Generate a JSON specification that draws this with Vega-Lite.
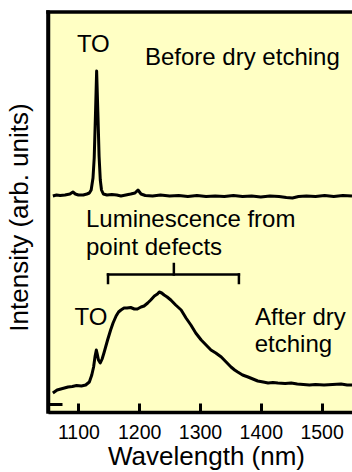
{
  "$schema": "https://vega.github.io/schema/vega-lite/v6.json",
  "width": 304,
  "height": 400,
  "autosize": "none",
  "padding": {"left": 48, "top": 12, "right": 0, "bottom": 60},
  "background": "white",
  "config": {
    "view": {"fill": "#FFFFC4", "stroke": null},
    "font": "Liberation Sans",
    "axis": {"grid": false, "domainColor": "black", "tickColor": "black", "labelColor": "black", "titleColor": "black", "titleFontWeight": "normal"}
  },
  "layer": [
    {
      "data": {"values": [
        {"wl": 1058, "v": 216, "s": "before"},
        {"wl": 1064, "v": 217, "s": "before"},
        {"wl": 1070, "v": 216.5, "s": "before"},
        {"wl": 1078, "v": 217, "s": "before"},
        {"wl": 1086, "v": 218, "s": "before"},
        {"wl": 1091, "v": 220, "s": "before"},
        {"wl": 1095, "v": 218, "s": "before"},
        {"wl": 1100, "v": 217, "s": "before"},
        {"wl": 1108, "v": 217, "s": "before"},
        {"wl": 1114, "v": 218, "s": "before"},
        {"wl": 1118, "v": 219, "s": "before"},
        {"wl": 1121, "v": 222, "s": "before"},
        {"wl": 1124, "v": 234, "s": "before"},
        {"wl": 1126, "v": 254, "s": "before"},
        {"wl": 1128, "v": 296, "s": "before"},
        {"wl": 1130, "v": 341, "s": "before"},
        {"wl": 1132, "v": 300, "s": "before"},
        {"wl": 1134, "v": 256, "s": "before"},
        {"wl": 1136, "v": 232, "s": "before"},
        {"wl": 1138, "v": 222, "s": "before"},
        {"wl": 1141, "v": 218, "s": "before"},
        {"wl": 1147, "v": 217, "s": "before"},
        {"wl": 1155, "v": 217.5, "s": "before"},
        {"wl": 1163, "v": 217, "s": "before"},
        {"wl": 1170, "v": 216, "s": "before"},
        {"wl": 1178, "v": 217, "s": "before"},
        {"wl": 1186, "v": 218, "s": "before"},
        {"wl": 1193, "v": 219, "s": "before"},
        {"wl": 1198, "v": 222, "s": "before"},
        {"wl": 1203, "v": 218, "s": "before"},
        {"wl": 1210, "v": 216.5, "s": "before"},
        {"wl": 1222, "v": 216, "s": "before"},
        {"wl": 1235, "v": 217, "s": "before"},
        {"wl": 1250, "v": 216, "s": "before"},
        {"wl": 1265, "v": 216.5, "s": "before"},
        {"wl": 1280, "v": 215.5, "s": "before"},
        {"wl": 1295, "v": 216.5, "s": "before"},
        {"wl": 1310, "v": 215.5, "s": "before"},
        {"wl": 1325, "v": 216, "s": "before"},
        {"wl": 1340, "v": 215.5, "s": "before"},
        {"wl": 1355, "v": 216.5, "s": "before"},
        {"wl": 1370, "v": 215.5, "s": "before"},
        {"wl": 1385, "v": 216, "s": "before"},
        {"wl": 1400, "v": 215, "s": "before"},
        {"wl": 1415, "v": 216, "s": "before"},
        {"wl": 1430, "v": 215.5, "s": "before"},
        {"wl": 1442, "v": 214.5, "s": "before"},
        {"wl": 1452, "v": 214, "s": "before"},
        {"wl": 1462, "v": 215.5, "s": "before"},
        {"wl": 1475, "v": 216, "s": "before"},
        {"wl": 1490, "v": 215.5, "s": "before"},
        {"wl": 1505, "v": 216.5, "s": "before"},
        {"wl": 1520, "v": 215.5, "s": "before"},
        {"wl": 1535, "v": 216.5, "s": "before"},
        {"wl": 1550, "v": 216, "s": "before"},
        {"wl": 1058, "v": 19, "s": "after"},
        {"wl": 1065, "v": 22, "s": "after"},
        {"wl": 1071, "v": 23, "s": "after"},
        {"wl": 1077, "v": 24, "s": "after"},
        {"wl": 1083, "v": 25, "s": "after"},
        {"wl": 1090, "v": 25.5, "s": "after"},
        {"wl": 1097, "v": 26.5, "s": "after"},
        {"wl": 1105, "v": 26, "s": "after"},
        {"wl": 1112, "v": 27, "s": "after"},
        {"wl": 1118, "v": 30, "s": "after"},
        {"wl": 1122, "v": 37, "s": "after"},
        {"wl": 1125, "v": 45, "s": "after"},
        {"wl": 1127.5, "v": 56, "s": "after"},
        {"wl": 1129.5, "v": 62, "s": "after"},
        {"wl": 1131, "v": 58, "s": "after"},
        {"wl": 1133, "v": 52, "s": "after"},
        {"wl": 1136, "v": 49, "s": "after"},
        {"wl": 1139, "v": 53, "s": "after"},
        {"wl": 1142, "v": 59, "s": "after"},
        {"wl": 1148, "v": 72, "s": "after"},
        {"wl": 1153, "v": 82, "s": "after"},
        {"wl": 1157, "v": 89, "s": "after"},
        {"wl": 1162, "v": 96, "s": "after"},
        {"wl": 1166, "v": 100, "s": "after"},
        {"wl": 1170, "v": 102, "s": "after"},
        {"wl": 1175, "v": 104, "s": "after"},
        {"wl": 1180, "v": 104, "s": "after"},
        {"wl": 1186, "v": 104.5, "s": "after"},
        {"wl": 1192, "v": 103, "s": "after"},
        {"wl": 1197, "v": 103, "s": "after"},
        {"wl": 1203, "v": 105, "s": "after"},
        {"wl": 1208, "v": 106, "s": "after"},
        {"wl": 1214, "v": 109, "s": "after"},
        {"wl": 1219, "v": 112, "s": "after"},
        {"wl": 1225, "v": 116, "s": "after"},
        {"wl": 1230, "v": 118, "s": "after"},
        {"wl": 1233, "v": 120, "s": "after"},
        {"wl": 1237, "v": 119, "s": "after"},
        {"wl": 1241, "v": 117, "s": "after"},
        {"wl": 1246, "v": 115, "s": "after"},
        {"wl": 1252, "v": 112, "s": "after"},
        {"wl": 1260, "v": 107, "s": "after"},
        {"wl": 1269, "v": 102, "s": "after"},
        {"wl": 1277, "v": 94, "s": "after"},
        {"wl": 1285, "v": 87, "s": "after"},
        {"wl": 1293, "v": 79, "s": "after"},
        {"wl": 1302, "v": 72, "s": "after"},
        {"wl": 1310, "v": 67, "s": "after"},
        {"wl": 1318, "v": 62, "s": "after"},
        {"wl": 1326, "v": 59, "s": "after"},
        {"wl": 1335, "v": 55, "s": "after"},
        {"wl": 1343, "v": 50, "s": "after"},
        {"wl": 1351, "v": 45, "s": "after"},
        {"wl": 1357, "v": 42, "s": "after"},
        {"wl": 1362, "v": 40, "s": "after"},
        {"wl": 1370, "v": 37, "s": "after"},
        {"wl": 1379, "v": 35, "s": "after"},
        {"wl": 1387, "v": 33, "s": "after"},
        {"wl": 1395, "v": 31, "s": "after"},
        {"wl": 1404, "v": 30, "s": "after"},
        {"wl": 1412, "v": 29, "s": "after"},
        {"wl": 1420, "v": 29.5, "s": "after"},
        {"wl": 1428, "v": 29, "s": "after"},
        {"wl": 1440, "v": 28.5, "s": "after"},
        {"wl": 1450, "v": 29, "s": "after"},
        {"wl": 1460, "v": 28, "s": "after"},
        {"wl": 1470, "v": 27.5, "s": "after"},
        {"wl": 1480, "v": 27, "s": "after"},
        {"wl": 1490, "v": 27.5, "s": "after"},
        {"wl": 1504, "v": 27, "s": "after"},
        {"wl": 1518, "v": 27.5, "s": "after"},
        {"wl": 1532, "v": 28, "s": "after"},
        {"wl": 1542, "v": 27, "s": "after"},
        {"wl": 1550, "v": 27, "s": "after"}
      ]},
      "mark": {"type": "line", "color": "black", "strokeWidth": 3, "strokeJoin": "round", "clip": true},
      "encoding": {
        "x": {"field": "wl", "type": "quantitative",
          "scale": {"domain": [1050, 1550], "nice": false, "zero": false},
          "axis": {
            "title": "Wavelength (nm)", "titleFontSize": 26, "titlePadding": 2, "titleX": 158,
            "values": [1100, 1150, 1200, 1250, 1300, 1350, 1400, 1450, 1500, 1550],
            "format": "d",
            "labelExpr": "datum.value % 100 === 0 ? datum.label : ''",
            "labelFontSize": 19.5, "labelPadding": 20,
            "tickSize": {"condition": {"test": "datum.value % 100 === 0", "value": -9}, "value": -5},
            "tickWidth": 3, "domainWidth": 3.5
          }},
        "y": {"field": "v", "type": "quantitative",
          "scale": {"domain": [0, 400], "nice": false, "zero": false},
          "axis": {
            "title": "Intensity (arb. units)", "titleFontSize": 26, "titlePadding": 14, "titleY": 205,
            "values": [8], "labels": false, "tickSize": -14, "tickWidth": 3, "domainWidth": 3.5
          }},
        "detail": {"field": "s"}
      }
    },
    {
      "data": {"values": [
        {"wl": 1050, "wl2": 1550, "y1": 400, "y2": 400},
        {"wl": 1050, "wl2": 1050, "y1": 0, "y2": 400}
      ]},
      "mark": {"type": "rule", "color": "black", "strokeWidth": 3.5, "strokeCap": "square"},
      "encoding": {
        "x": {"field": "wl", "type": "quantitative"},
        "x2": {"field": "wl2"},
        "y": {"field": "y1", "type": "quantitative"},
        "y2": {"field": "y2"}
      }
    },
    {
      "data": {"values": [
        {"wl": 1148.7, "wl2": 1364, "y1": 137.5, "y2": 137.5},
        {"wl": 1148.7, "wl2": 1148.7, "y1": 137.5, "y2": 129},
        {"wl": 1364, "wl2": 1364, "y1": 137.5, "y2": 129},
        {"wl": 1257, "wl2": 1257, "y1": 137.5, "y2": 148}
      ]},
      "mark": {"type": "rule", "color": "black", "strokeWidth": 2.5, "strokeCap": "square"},
      "encoding": {
        "x": {"field": "wl", "type": "quantitative"},
        "x2": {"field": "wl2"},
        "y": {"field": "y1", "type": "quantitative"},
        "y2": {"field": "y2"}
      }
    },
    {
      "data": {"values": [
        {"wl": 1097.5, "y": 360, "t": "TO"},
        {"wl": 1209.5, "y": 347, "t": "Before dry etching"},
        {"wl": 1112.5, "y": 185, "t": "Luminescence from"},
        {"wl": 1112.5, "y": 157, "t": "point defects"},
        {"wl": 1093.5, "y": 87, "t": "TO"},
        {"wl": 1390.5, "y": 87, "t": "After dry"},
        {"wl": 1390, "y": 60, "t": "etching"}
      ]},
      "mark": {"type": "text", "align": "left", "baseline": "alphabetic", "fontSize": 24, "font": "Liberation Sans", "color": "black"},
      "encoding": {
        "x": {"field": "wl", "type": "quantitative"},
        "y": {"field": "y", "type": "quantitative"},
        "text": {"field": "t"}
      }
    }
  ]
}
